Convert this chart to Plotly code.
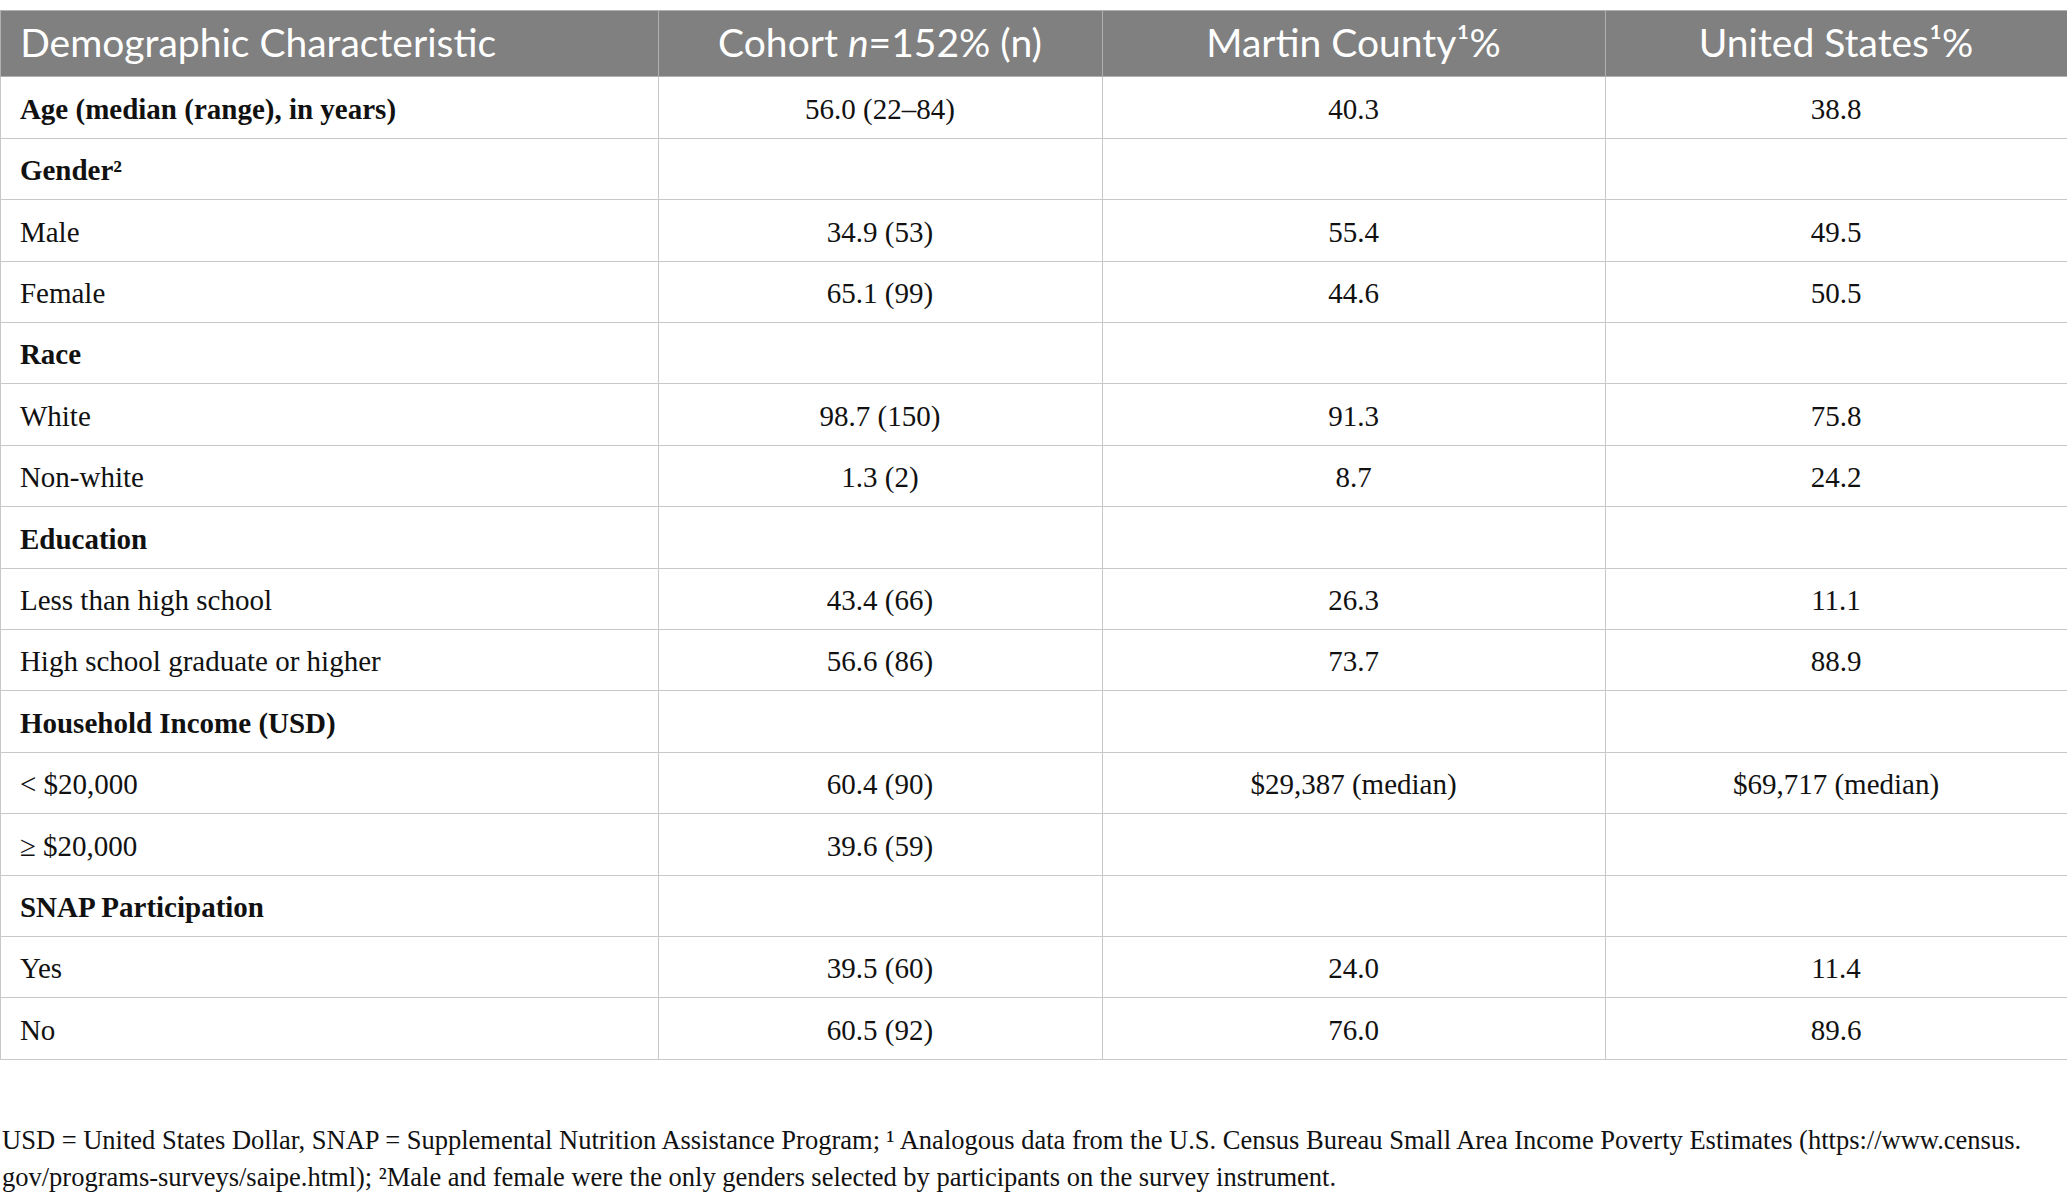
import plotly.graph_objects as go

# column headers
headers = [
    "Demographic Characteristic",
    "Cohort <i>n</i>=152% (n)",
    "Martin County¹%",
    "United States¹%",
]

# table rows
characteristics = [
    "Age (median (range), in years)", "Gender²", "Male", "Female",
    "Race", "White", "Non-white", "Education", "Less than high school",
    "High school graduate or higher", "Household Income (USD)", "&lt; $20,000",
    "≥ $20,000", "SNAP Participation", "Yes", "No",
]
is_group = [True, True, False, False, True, False, False, True, False,
            False, True, False, False, True, False, False]
cohort = ["56.0 (22–84)", "", "34.9 (53)", "65.1 (99)", "", "98.7 (150)",
          "1.3 (2)", "", "43.4 (66)", "56.6 (86)", "", "60.4 (90)",
          "39.6 (59)", "", "39.5 (60)", "60.5 (92)"]
martin = ["40.3", "", "55.4", "44.6", "", "91.3", "8.7", "", "26.3", "73.7",
          "", "$29,387 (median)", "", "", "24.0", "76.0"]
us = ["38.8", "", "49.5", "50.5", "", "75.8", "24.2", "", "11.1", "88.9",
      "", "$69,717 (median)", "", "", "11.4", "89.6"]

footnote1 = ("USD = United States Dollar, SNAP = Supplemental Nutrition Assistance Program; "
             "¹ Analogous data from the U.S. Census Bureau Small Area Income "
             "Poverty Estimates (https://www.census.")
footnote2 = ("gov/programs-surveys/saipe.html); ²Male and female were the only "
             "genders selected by participants on the survey instrument.")

# a tall blank glyph makes the text box taller so the words sit lower in the row
tall = "<span style='font-size:38px'>\u00a0</span>"


def cell(t, centred=True):
    # <br> stops auto-wrapping
    return "<br>" + tall + t + (tall if centred else "")


first_col = [cell("\u200a" + ("<b>" + c + "</b>" if g else c), centred=False)
             for c, g in zip(characteristics, is_group)]
header_vals = ["<span>\u2009\u2009\u200a" + headers[0] + "</span>"] + ["<span>" + h + "</span>" for h in headers[1:]]

fig = go.Figure(go.Table(
    domain=dict(x=[0, 1], y=[0, 0.991]),
    columnwidth=[658, 444, 503, 462],
    header=dict(
        values=header_vals,
        fill_color="#808080",
        line_color="#b0b0b0",
        align=["left", "center", "center", "center"],
        font=dict(family="Lato", size=39, color="white"),
        height=66,
    ),
    cells=dict(
        values=[first_col, [cell(v) for v in cohort], [cell(v) for v in martin],
                [cell(v) for v in us]],
        fill_color="white",
        line_color="#c8c8c8",
        align=["left", "center", "center", "center"],
        font=dict(family="Liberation Serif", size=29, color="#111111"),
        height=61.4,
    ),
))

fig.add_annotation(text=footnote1, x=0, y=1 - 1140 / 1203, xref="paper", yref="paper",
                   xanchor="left", yanchor="middle", showarrow=False,
                   font=dict(family="Liberation Serif", size=26.5, color="#111111"))
fig.add_annotation(text=footnote2, x=0, y=1 - 1177 / 1203, xref="paper", yref="paper",
                   xanchor="left", yanchor="middle", showarrow=False,
                   font=dict(family="Liberation Serif", size=26.5, color="#111111"))

fig.update_layout(width=2067, height=1203, margin=dict(l=0, r=0, t=0, b=0),
                  paper_bgcolor="white")
fig.write_html("out.html", config={"displayModeBar": False},
               post_script="document.body.style.margin='0';")
